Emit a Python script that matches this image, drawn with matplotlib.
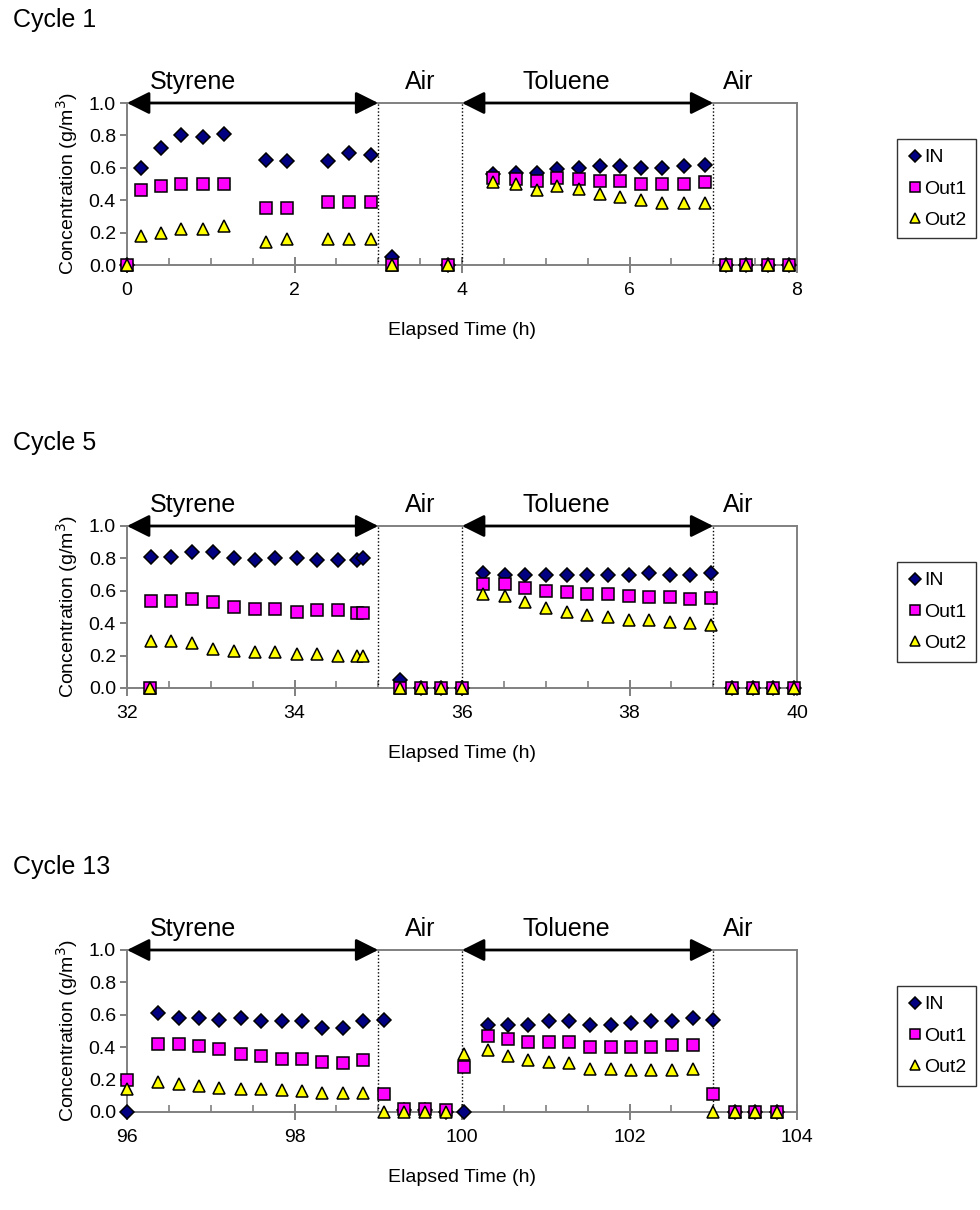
import numpy as np
import matplotlib
matplotlib.use("Agg")
import matplotlib.pyplot as plt
from matplotlib.ticker import MultipleLocator, FormatStrFormatter

plt.rcParams['font.family'] = ['Liberation Sans', 'DejaVu Sans']

nan = np.nan

# ---- Cycle 1 ----
t1 = [0.0, 0.17, 0.40, 0.65, 0.91, 1.16, 1.66, 1.91, 2.40, 2.65, 2.91, 3.17, 3.83,
      4.37, 4.64, 4.89, 5.14, 5.40, 5.65, 5.89, 6.14, 6.39, 6.65, 6.90,
      7.15, 7.39, 7.65, 7.90]
in1 = [0.0, 0.60, 0.72, 0.80, 0.79, 0.81, 0.65, 0.64, 0.64, 0.69, 0.68, 0.05, 0.0,
       0.56, 0.57, 0.57, 0.59, 0.60, 0.61, 0.61, 0.60, 0.60, 0.61, 0.62,
       0.0, 0.0, 0.0, 0.0]
out1_1 = [0.0, 0.46, 0.49, 0.50, 0.50, 0.50, 0.35, 0.35, 0.39, 0.39, 0.39, 0.0, 0.0,
          0.54, 0.53, 0.52, 0.54, 0.53, 0.52, 0.52, 0.50, 0.50, 0.50, 0.51,
          0.0, 0.0, 0.0, 0.0]
out2_1 = [0.0, 0.18, 0.20, 0.22, 0.22, 0.24, 0.14, 0.16, 0.16, 0.16, 0.16, 0.0, 0.0,
          0.51, 0.50, 0.46, 0.49, 0.47, 0.44, 0.42, 0.40, 0.38, 0.38, 0.38,
          0.0, 0.0, 0.0, 0.0]

# ---- Cycle 5 ----
t5 = [32.27, 32.29, 32.53, 32.78, 33.03, 33.28, 33.53, 33.77, 34.03, 34.27, 34.52, 34.75, 34.82,
      35.26, 35.51, 35.75, 36.00,
      36.25, 36.51, 36.75, 37.00, 37.25, 37.49, 37.74, 37.99, 38.23, 38.48, 38.72, 38.97,
      39.22, 39.47, 39.71, 39.96]
in5 = [nan, 0.81, 0.81, 0.84, 0.84, 0.80, 0.79, 0.80, 0.80, 0.79, 0.79, 0.79, 0.80,
       0.05, 0.0, 0.0, 0.0,
       0.71, 0.70, 0.70, 0.70, 0.70, 0.70, 0.70, 0.70, 0.71, 0.70, 0.70, 0.71,
       0.0, 0.0, 0.0, 0.0]
out1_5 = [0.0, 0.54, 0.54, 0.55, 0.53, 0.50, 0.49, 0.485, 0.47, 0.48, 0.48, 0.465, 0.465,
          0.0, 0.0, 0.0, 0.0,
          0.64, 0.64, 0.62, 0.60, 0.59, 0.58, 0.58, 0.57, 0.56, 0.56, 0.55, 0.555,
          0.0, 0.0, 0.0, 0.0]
out2_5 = [0.0, 0.29, 0.29, 0.28, 0.24, 0.23, 0.22, 0.22, 0.21, 0.21, 0.20, 0.195, 0.195,
          0.0, 0.0, 0.0, 0.0,
          0.58, 0.57, 0.53, 0.495, 0.47, 0.45, 0.44, 0.42, 0.42, 0.41, 0.40, 0.39,
          0.0, 0.0, 0.0, 0.0]

# ---- Cycle 13 ----
t13 = [96.0, 96.37, 96.62, 96.86, 97.10, 97.36, 97.60, 97.85, 98.09, 98.33, 98.58, 98.82, 99.07,
       99.31, 99.56, 99.81, 100.02,
       100.31, 100.55, 100.79, 101.04, 101.28, 101.53, 101.78, 102.02, 102.26, 102.51, 102.76, 103.0,
       103.26, 103.50, 103.76]
in13 = [0.0, 0.61, 0.58, 0.58, 0.57, 0.58, 0.56, 0.56, 0.56, 0.52, 0.52, 0.56, 0.57,
        0.01, 0.01, 0.0, 0.0,
        0.54, 0.54, 0.54, 0.56, 0.56, 0.54, 0.54, 0.55, 0.56, 0.56, 0.58, 0.57,
        0.0, 0.0, 0.0]
out1_13 = [0.20, 0.42, 0.42, 0.41, 0.39, 0.36, 0.345, 0.33, 0.325, 0.31, 0.30, 0.32, 0.11,
           0.02, 0.02, 0.01, 0.28,
           0.47, 0.45, 0.435, 0.43, 0.43, 0.40, 0.40, 0.40, 0.40, 0.415, 0.415, 0.11,
           0.0, 0.0, 0.0]
out2_13 = [0.14, 0.185, 0.175, 0.16, 0.15, 0.145, 0.14, 0.135, 0.13, 0.12, 0.115, 0.12, 0.0,
           0.0, 0.0, 0.0, 0.36,
           0.38, 0.345, 0.32, 0.31, 0.30, 0.265, 0.265, 0.26, 0.26, 0.26, 0.265, 0.0,
           0.0, 0.0, 0.0]

cycles = ["Cycle 1", "Cycle 5", "Cycle 13"]
starts = [0, 32, 96]
times = [t1, t5, t13]
ins = [in1, in5, in13]
outs1 = [out1_1, out1_5, out1_13]
outs2 = [out2_1, out2_5, out2_13]

# phase labels, offsets in hours from the cycle start
phase_names = ["Styrene", "Air", "Toluene", "Air"]
phase_label_x = [0.79, 3.5, 5.24, 7.3]
arrow_spans = [(0, 3), (4, 7)]
switch_lines = [3, 4, 7]

W, H = 980, 1210
fig = plt.figure(figsize=(W / 100, H / 100), dpi=100)

ax_left, ax_w, ax_h = 127, 670, 162
ax_tops = [103, 526, 950]
gray = '#808080'

for k in range(3):
    top = ax_tops[k]
    ax = fig.add_axes([ax_left / W, 1 - (top + ax_h) / H, ax_w / W, ax_h / H])
    s = starts[k]

    ax.plot(times[k], ins[k], ls='none', marker='D', ms=6.8, mfc='#000080', mec='black',
            mew=1.1, clip_on=False, zorder=3, label='IN')
    ax.plot(times[k], outs1[k], ls='none', marker='s', ms=8.6, mfc='#FF00FF', mec='black',
            mew=1.1, clip_on=False, zorder=4, label='Out1')
    ax.plot(times[k], outs2[k], ls='none', marker='^', ms=9, mfc='#FFFF00', mec='black',
            mew=1.1, clip_on=False, zorder=5, label='Out2')

    ax.set_xlim(s, s + 8)
    ax.set_ylim(0, 1.0)

    for xl in switch_lines:
        ax.plot([s + xl, s + xl], [0, 1], color='black', lw=1, ls=(0, (1, 1.5)), zorder=2)

    for a, b in arrow_spans:
        ax.annotate('', xy=(s + a, 1.0), xytext=(s + b, 1.0),
                    arrowprops=dict(arrowstyle='<|-|>,head_length=0.4,head_width=0.2',
                                    color='black', lw=2, mutation_scale=34,
                                    shrinkA=0, shrinkB=0),
                    annotation_clip=False, zorder=6)

    for name, px in zip(phase_names, phase_label_x):
        ax.text(s + px, 1.085, name, ha='center', va='baseline', fontsize=18, clip_on=False)

    fig.text(13 / W, 1 - (top - 76) / H, cycles[k], ha='left', va='baseline', fontsize=18)

    for sp in ax.spines.values():
        sp.set_color(gray)
        sp.set_linewidth(1.4)

    ax.xaxis.set_major_locator(MultipleLocator(2))
    ax.xaxis.set_minor_locator(MultipleLocator(0.5))
    ax.yaxis.set_major_locator(MultipleLocator(0.2))
    ax.yaxis.set_major_formatter(FormatStrFormatter('%.1f'))
    ax.xaxis.set_major_formatter(FormatStrFormatter('%d'))
    ax.tick_params(axis='x', which='major', direction='inout', length=11, width=1.4,
                   color=gray, labelsize=14, pad=7)
    ax.tick_params(axis='x', which='minor', direction='in', length=5, width=1.2, color=gray)
    ax.tick_params(axis='y', direction='out', length=5, width=1.4, color=gray,
                   labelsize=14, pad=3)

    ax.set_xlabel('Elapsed Time (h)', fontsize=14, labelpad=16)
    ax.set_ylabel('Concentration (g/m$^3$)', fontsize=14, labelpad=6)

    leg = ax.legend(loc='upper left', bbox_to_anchor=(897 / W, 1 - (top + 36) / H),
                    bbox_transform=fig.transFigure, fontsize=14, frameon=True,
                    fancybox=False, edgecolor='black', handlelength=0.8,
                    handletextpad=0.1, labelspacing=0.7, borderpad=0.5,
                    borderaxespad=0, markerscale=0.85)
    leg.get_frame().set_linewidth(1.0)

fig.savefig('out.png', dpi=100)
